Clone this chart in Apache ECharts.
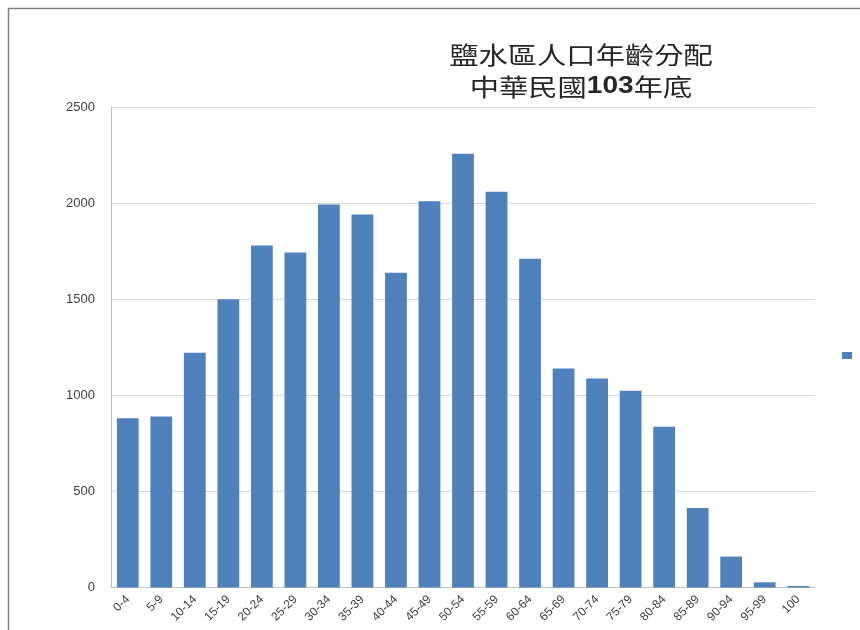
<!DOCTYPE html>
<html>
<head>
<meta charset="utf-8">
<script src="https://cdn.jsdelivr.net/npm/echarts@6/dist/echarts.min.js"></script>
<style>html,body{margin:0;padding:0;background:#fff}#c{width:860px;height:630px}</style>
</head>
<body>
<div id="c"></div>
<script>
const categories = ['0-4','5-9','10-14','15-19','20-24','25-29','30-34','35-39','40-44','45-49','50-54','55-59','60-64','65-69','70-74','75-79','80-84','85-89','90-94','95-99','100'];
const population = [881,890,1221,1500,1779,1743,1993,1941,1637,2010,2257,2059,1710,1140,1088,1024,837,413,161,27,8];
const yTicks = [0,500,1000,1500,2000,2500];
const titleLine1 = '鹽水區人口年齡分配';
const titleLine2a = '中華民國';
const titleLine2b = '103';
const titleLine2c = '年底';

const chart = echarts.init(document.getElementById('c'));
chart.setOption({
  animation: false,
  backgroundColor: '#fff',
  graphic: [{
    type: 'rect', left: 6, top: 6,
    shape: {width: 900, height: 700},
    style: {fill: 'none', stroke: '#808080', lineWidth: 1.5}
  }, {
    type: 'text', x: 581, y: 71, scaleX: 1.22, z: 10,
    style: {
      text: '{a|' + titleLine1 + '}\n{a|' + titleLine2a + '}{b|' + titleLine2b + '}{a|' + titleLine2c + '}',
      align: 'center', verticalAlign: 'middle',
      rich: {
        a: {fontFamily: 'Noto Sans CJK TC', fontWeight: 'normal', fontSize: 24, fill: '#262626', lineHeight: 32, align: 'center'},
        b: {fontFamily: 'Liberation Sans', fontWeight: 'bold', fontSize: 23, fill: '#262626', lineHeight: 32}
      }
    }
  }],
  legend: {
    show: true, left: 837, top: 347, itemWidth: 10, itemHeight: 7,
    formatter: () => '', itemGap: 0,
    data: [{name: '人口', icon: 'rect'}]
  },
  grid: {left: 111, right: 45, top: 107, bottom: 42.5, containLabel: false},
  xAxis: {
    type: 'category', data: categories,
    axisLine: {lineStyle: {color: '#BFBFBF'}},
    axisTick: {show: false},
    axisLabel: {rotate: 45, interval: 0, fontSize: 12, color: '#404040', fontFamily: 'Liberation Sans', margin: 10}
  },
  yAxis: {
    type: 'value', min: 0, max: 2500, interval: 500,
    axisLine: {show: true, lineStyle: {color: '#BFBFBF'}},
    axisTick: {show: false},
    splitLine: {lineStyle: {color: '#D9D9D9'}},
    axisLabel: {fontSize: 13, color: '#404040', fontFamily: 'Liberation Sans', margin: 16,
      formatter: v => yTicks.includes(v) ? String(v) : ''}
  },
  series: [{
    name: '人口', type: 'bar', data: population,
    barCategoryGap: '35%',
    itemStyle: {color: '#4F81BD'}
  }]
});
</script>
</body>
</html>
